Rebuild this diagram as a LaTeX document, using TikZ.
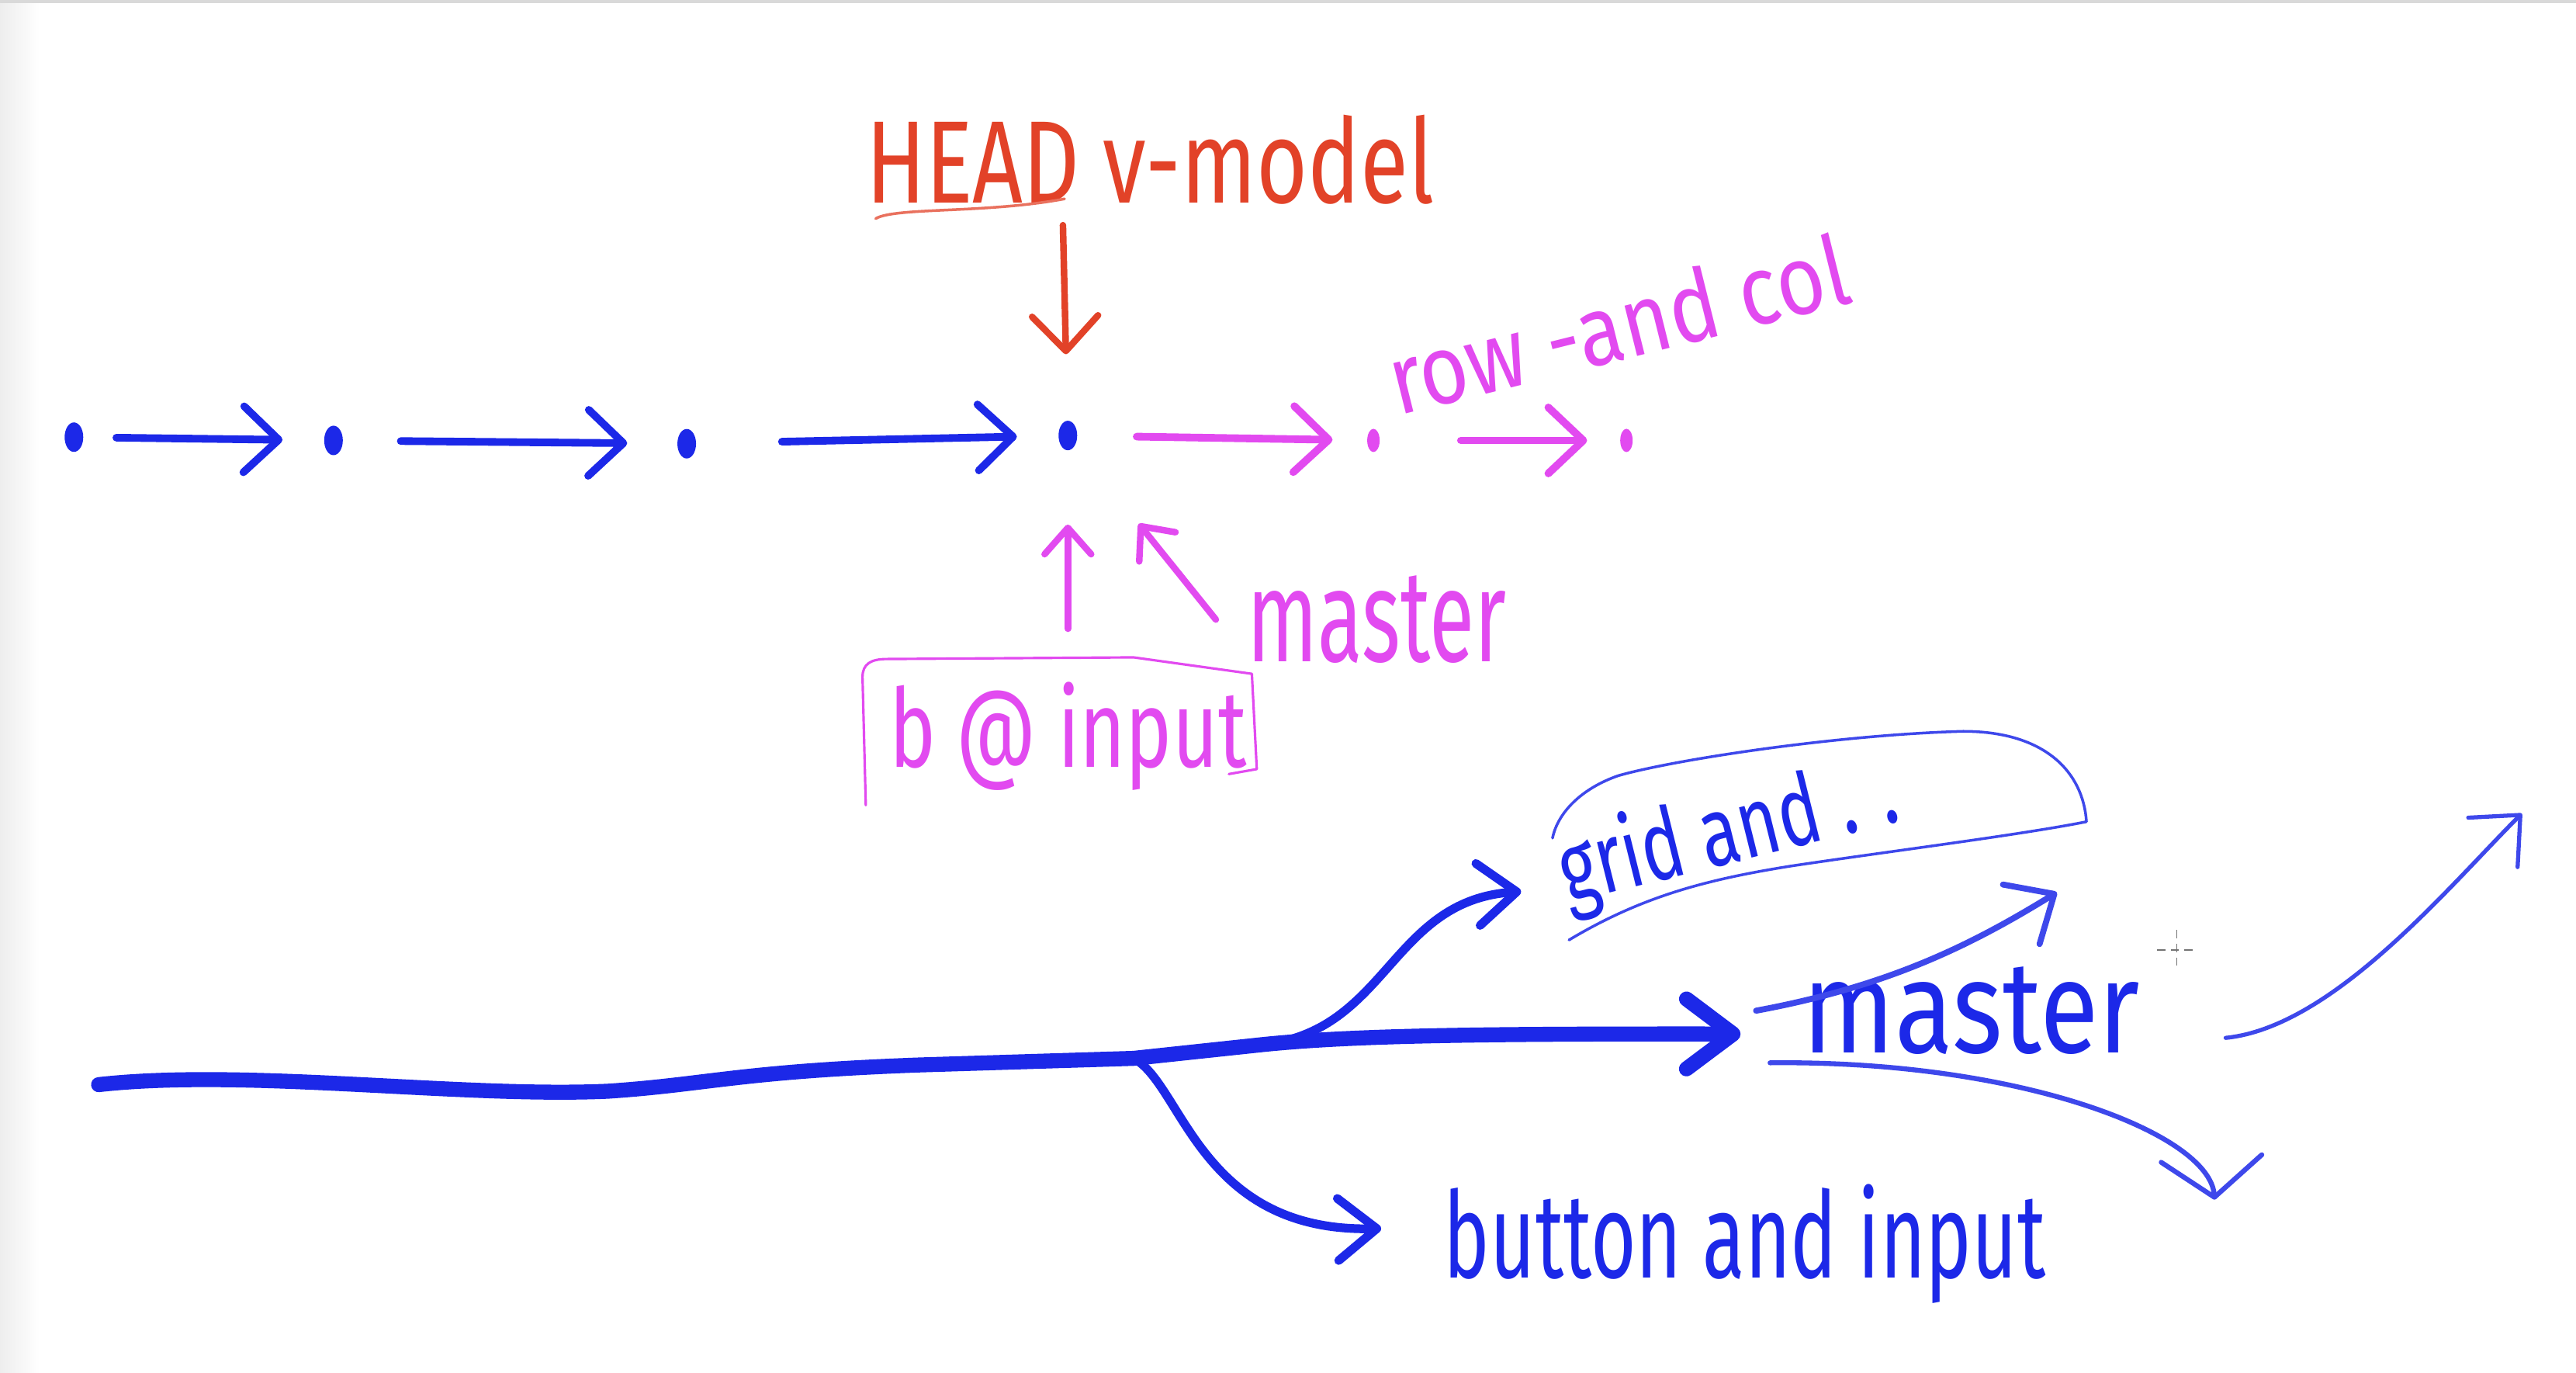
\documentclass[tikz,border=0pt]{standalone}
\usepackage{fontspec}
\setmainfont{Fira Sans}
\usetikzlibrary{arrows.meta, positioning, calc, shapes.geometric}

\definecolor{penblue}{RGB}{28,40,232}
\definecolor{penpink}{RGB}{226,74,240}
\definecolor{penred}{RGB}{226,66,40}

% hand lettering: size, squeeze, text
\newcommand{\hand}[3]{\fontsize{#1pt}{#1pt}\selectfont\scalebox{#2}[1]{#3}}

\tikzset{
  commit/.style={ellipse, fill=#1, inner sep=0pt, minimum width=2.4mm, minimum height=3.8mm},
  label/.style={inner sep=0pt, text=#1},
  pen/.style={line cap=round, line join=round},
  hop/.style={pen, line width=2.8pt, draw=#1, -{Straight Barb[length=4.5mm, width=8.5mm, round]}},
  poke/.style={pen, line width=2.4pt, draw=penpink, -{Straight Barb[length=3.4mm, width=6mm, round]}},
  trunk/.style={pen, line width=5.5pt, draw=penblue, -{Straight Barb[length=6mm, width=9mm, round]}},
  branch/.style={pen, line width=3.2pt, draw=penblue, -{Straight Barb[length=5mm, width=8mm, round]}},
  sketch/.style={pen, line width=#1, draw=penblue!85},
}

\begin{document}
\begin{tikzpicture}[x=0.2117mm, y=-0.2117mm]
\useasboundingbox (0,0) rectangle (1568,835);
\fill[white] (0,0) rectangle (1568,835);
\shade[left color=gray!14, right color=white] (0,0) rectangle (24,835);
\fill[gray!30] (0,0) rectangle (1568,2);

% commits
\node[commit=penblue] (c1) at (45,266) {};
\node[commit=penblue] (c2) at (203,268) {};
\node[commit=penblue] (c3) at (418,270) {};
\node[commit=penblue] (c4) at (650,265) {};
\node[commit=penpink, minimum width=1.6mm, minimum height=3mm] (c5) at (836,268) {};
\node[commit=penpink, minimum width=1.6mm, minimum height=3mm] (c6) at (990,268) {};

\draw[hop=penblue, shorten <=4.2mm, shorten >=5.3mm] (c1) -- (c2);
\draw[hop=penblue, shorten <=7.4mm, shorten >=6.4mm] (c2) -- (c3);
\draw[hop=penblue, shorten <=11mm, shorten >=5.3mm] (c3) -- (c4);
\draw[hop=penpink, shorten <=7.6mm, shorten >=4.4mm] (c4) -- (c5);
\draw[hop=penpink, shorten <=10.4mm, shorten >=4.2mm] (c5) -- (c6);

% pointers
\node[label=penred] (head) at (700,97) {\hand{43}{0.75}{HEAD v-model}};
\draw[penred!75, line width=1pt, pen] (533,133) .. controls (545,126) and (600,130) .. (648,121);
\coordinate (headtip) at (647,137);
\draw[hop=penred, line width=2.4pt, shorten >=8.5mm] (headtip) -- (c4);

\node[label=penpink, rotate=14] (rowcol) at (985,197) {\hand{36}{0.85}{row -and col}};
\node[label=penpink] (m1) at (838,377) {\hand{48}{0.63}{master}};
\node[label=penpink] (binput) at (650,448) {\hand{40}{0.72}{b @ input}};
\draw[penpink, line width=0.9pt, pen] (527,490) -- (525,412) .. controls (525,404) and (530,401) .. (540,401)
  -- (690,400) -- (762,410) -- (765,468) -- (748,471);

\draw[poke, shorten >=9.5mm] ([yshift=6.8mm]binput.north) -- (c4);
\draw[poke, shorten >=13mm] ([xshift=-4mm]m1.west) -- (c4);

% branches
\node[label=penblue] (m2) at (1200,615) {\hand{48}{0.82}{master}};
\node[label=penblue, rotate=14] (grid) at (1052,508) {\hand{36}{0.72}{grid and . .}};
\node[label=penblue] (button) at (1062,757) {\hand{44}{0.65}{button and input}};

\coordinate (root) at (60,660);
\coordinate (fork) at (690,644);
\coordinate (forkup) at (765,636);

\draw[trunk] (root) .. controls (150,650) and (280,668) .. (370,664)
  .. controls (430,660) and (450,652) .. (560,648) -- (fork) -- (forkup)
  .. controls (820,630) and (900,629) .. ([shift={(-8mm,-3mm)}]m2.west);
\draw[branch] (forkup) .. controls (845,630) and (845,548) .. ($(grid.west)+(-24,9)$);
\draw[branch] (fork) .. controls (720,660) and (730,750) .. ([shift={(-8mm,2mm)}]button.west);

% sketch around grid
\draw[sketch=1pt] (955,572) .. controls (1000,545) and (1040,535) .. (1090,527)
  .. controls (1150,518) and (1230,508) .. (1270,500)
  .. controls (1268,470) and (1245,445) .. (1195,445)
  .. controls (1120,447) and (1020,462) .. (985,472)
  .. controls (962,480) and (948,495) .. (945,510);

% master moves
\coordinate (lowtip) at (1348,730);
\coordinate (midtip) at (1252,543);
\coordinate (fartip) at (1535,495);
\draw[sketch=1.8pt, -{Straight Barb[length=5mm, width=13mm, round]}]
  ([shift={(-4.2mm,-1mm)}]m2.south west) .. controls (1230,645) and (1345,690) .. (lowtip);
\draw[sketch=2.2pt, -{Straight Barb[length=5mm, width=9mm, round]}]
  ([xshift=-6mm]m2.west) .. controls (1150,600) and (1200,575) .. (midtip);
\draw[sketch=1.5pt, -{Straight Barb[length=5mm, width=9mm, round]}]
  ([shift={(11mm,-3.5mm)}]m2.east) .. controls (1420,625) and (1490,540) .. (fartip);

% cursor
\draw[black!55, line width=0.5pt, densely dashed] (1325,566) -- (1325,590) (1313,578) -- (1337,578);
\end{tikzpicture}
\end{document}
